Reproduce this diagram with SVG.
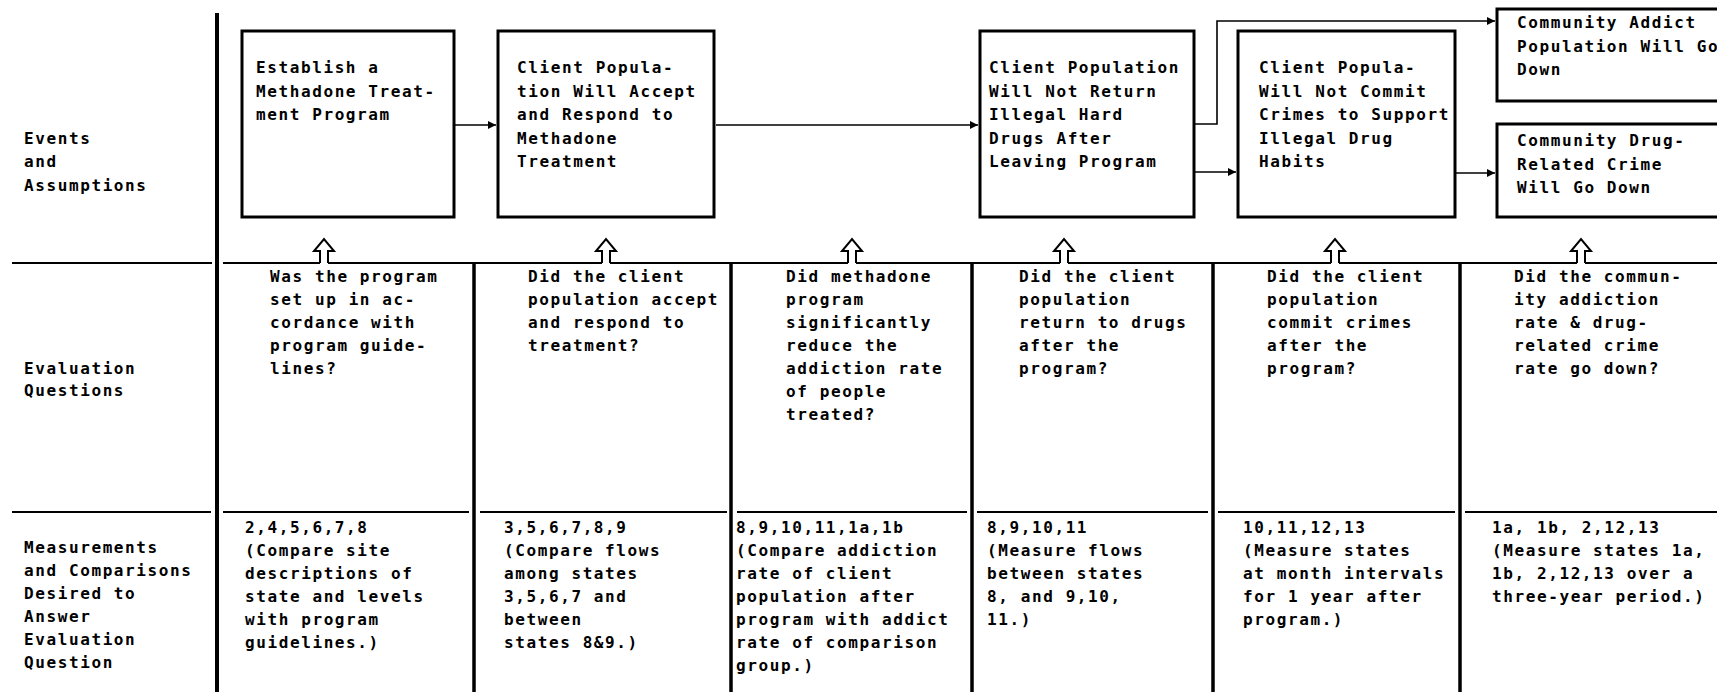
<svg xmlns="http://www.w3.org/2000/svg" width="1717" height="692" viewBox="0 0 1717 692">
<style>
.bg{fill:#fff}
.box{fill:none;stroke:#000;stroke-width:3}
.rule{fill:none;stroke:#000;stroke-width:2}
.vdiv{stroke:#000;stroke-width:3.5}
.conn{fill:none;stroke:#000;stroke-width:1.6}
.up{fill:none;stroke:#000;stroke-width:2;stroke-linejoin:miter}
text{font-family:"DejaVu Sans Mono","Liberation Mono",monospace;font-weight:bold;font-size:16px;letter-spacing:1.6px;fill:#000}
</style>
<defs>
<marker id="ah" viewBox="0 0 10 10" refX="10" refY="5" markerWidth="9" markerHeight="8" markerUnits="userSpaceOnUse" orient="auto">
<path d="M0,0 L10,5 L0,10 z" fill="#000"/>
</marker>
</defs>
<rect class="bg" x="0" y="0" width="1717" height="692"/>

<g id="grid">
<line class="vdiv" x1="217" y1="13" x2="217" y2="692" style="stroke-width:4"/>
<line class="vdiv" x1="474" y1="263" x2="474" y2="692"/>
<line class="vdiv" x1="731" y1="263" x2="731" y2="692"/>
<line class="vdiv" x1="972" y1="263" x2="972" y2="692"/>
<line class="vdiv" x1="1213" y1="263" x2="1213" y2="692"/>
<line class="vdiv" x1="1460" y1="263" x2="1460" y2="692"/>
<path class="rule" d="M12 263H212 M223 263H320 M328 263H602 M610 263H848 M856 263H1060 M1068 263H1331 M1339 263H1577 M1585 263H1717"/>
<path class="rule" d="M12 512H211 M223 512H469 M480 512H727 M737 512H967 M977 512H1208 M1218 512H1455 M1465 512H1717"/>
</g>

<g id="row-labels">
<text x="24" y="144">Events</text>
<text x="24" y="167">and</text>
<text x="24" y="191">Assumptions</text>
<text x="24" y="374">Evaluation</text>
<text x="24" y="396">Questions</text>
<text x="24" y="553">Measurements</text>
<text x="24" y="576">and Comparisons</text>
<text x="24" y="599">Desired to</text>
<text x="24" y="622">Answer</text>
<text x="24" y="645">Evaluation</text>
<text x="24" y="668">Question</text>
</g>

<g id="event-1">
<rect class="box" x="242" y="31" width="212" height="186"/>
<text x="256" y="73">Establish a<tspan x="256" dy="23.5">Methadone Treat-</tspan><tspan x="256" dy="23.5">ment Program</tspan></text>
</g>
<g id="event-2">
<rect class="box" x="498" y="31" width="216" height="186"/>
<text x="517" y="73">Client Popula-<tspan x="517" dy="23.5">tion Will Accept</tspan><tspan x="517" dy="23.5">and Respond to</tspan><tspan x="517" dy="23.5">Methadone</tspan><tspan x="517" dy="23.5">Treatment</tspan></text>
</g>
<g id="event-3">
<rect class="box" x="980" y="31" width="214" height="186"/>
<text x="989" y="73">Client Population<tspan x="989" dy="23.5">Will Not Return</tspan><tspan x="989" dy="23.5">Illegal Hard</tspan><tspan x="989" dy="23.5">Drugs After</tspan><tspan x="989" dy="23.5">Leaving Program</tspan></text>
</g>
<g id="event-4">
<rect class="box" x="1238" y="31" width="217" height="186"/>
<text x="1259" y="73">Client Popula-<tspan x="1259" dy="23.5">Will Not Commit</tspan><tspan x="1259" dy="23.5">Crimes to Support</tspan><tspan x="1259" dy="23.5">Illegal Drug</tspan><tspan x="1259" dy="23.5">Habits</tspan></text>
</g>
<g id="event-5">
<path class="box" d="M1725 9H1497V101H1725"/>
<text x="1517" y="28">Community Addict<tspan x="1517" dy="23.5">Population Will Go</tspan><tspan x="1517" dy="23.5">Down</tspan></text>
</g>
<g id="event-6">
<path class="box" d="M1725 124H1497V217H1725"/>
<text x="1517" y="146">Community Drug-<tspan x="1517" dy="23.5">Related Crime</tspan><tspan x="1517" dy="23.5">Will Go Down</tspan></text>
</g>

<g id="question-1"><text x="270" y="282">Was the program<tspan x="270" dy="23">set up in ac-</tspan><tspan x="270" dy="23">cordance with</tspan><tspan x="270" dy="23">program guide-</tspan><tspan x="270" dy="23">lines?</tspan></text></g>
<g id="question-2"><text x="528" y="282">Did the client<tspan x="528" dy="23">population accept</tspan><tspan x="528" dy="23">and respond to</tspan><tspan x="528" dy="23">treatment?</tspan></text></g>
<g id="question-3"><text x="786" y="282">Did methadone<tspan x="786" dy="23">program</tspan><tspan x="786" dy="23">significantly</tspan><tspan x="786" dy="23">reduce the</tspan><tspan x="786" dy="23">addiction rate</tspan><tspan x="786" dy="23">of people</tspan><tspan x="786" dy="23">treated?</tspan></text></g>
<g id="question-4"><text x="1019" y="282">Did the client<tspan x="1019" dy="23">population</tspan><tspan x="1019" dy="23">return to drugs</tspan><tspan x="1019" dy="23">after the</tspan><tspan x="1019" dy="23">program?</tspan></text></g>
<g id="question-5"><text x="1267" y="282">Did the client<tspan x="1267" dy="23">population</tspan><tspan x="1267" dy="23">commit crimes</tspan><tspan x="1267" dy="23">after the</tspan><tspan x="1267" dy="23">program?</tspan></text></g>
<g id="question-6"><text x="1514" y="282">Did the commun-<tspan x="1514" dy="23">ity addiction</tspan><tspan x="1514" dy="23">rate &amp; drug-</tspan><tspan x="1514" dy="23">related crime</tspan><tspan x="1514" dy="23">rate go down?</tspan></text></g>

<g id="measure-1"><text x="245" y="533">2,4,5,6,7,8<tspan x="245" dy="23">(Compare site</tspan><tspan x="245" dy="23">descriptions of</tspan><tspan x="245" dy="23">state and levels</tspan><tspan x="245" dy="23">with program</tspan><tspan x="245" dy="23">guidelines.)</tspan></text></g>
<g id="measure-2"><text x="504" y="533">3,5,6,7,8,9<tspan x="504" dy="23">(Compare flows</tspan><tspan x="504" dy="23">among states</tspan><tspan x="504" dy="23">3,5,6,7 and</tspan><tspan x="504" dy="23">between</tspan><tspan x="504" dy="23">states 8&amp;9.)</tspan></text></g>
<g id="measure-3"><text x="736" y="533">8,9,10,11,1a,1b<tspan x="736" dy="23">(Compare addiction</tspan><tspan x="736" dy="23">rate of client</tspan><tspan x="736" dy="23">population after</tspan><tspan x="736" dy="23">program with addict</tspan><tspan x="736" dy="23">rate of comparison</tspan><tspan x="736" dy="23">group.)</tspan></text></g>
<g id="measure-4"><text x="987" y="533">8,9,10,11<tspan x="987" dy="23">(Measure flows</tspan><tspan x="987" dy="23">between states</tspan><tspan x="987" dy="23">8, and 9,10,</tspan><tspan x="987" dy="23">11.)</tspan></text></g>
<g id="measure-5"><text x="1243" y="533">10,11,12,13<tspan x="1243" dy="23">(Measure states</tspan><tspan x="1243" dy="23">at month intervals</tspan><tspan x="1243" dy="23">for 1 year after</tspan><tspan x="1243" dy="23">program.)</tspan></text></g>
<g id="measure-6"><text x="1492" y="533">1a, 1b, 2,12,13<tspan x="1492" dy="23">(Measure states 1a,</tspan><tspan x="1492" dy="23">1b, 2,12,13 over a</tspan><tspan x="1492" dy="23">three-year period.)</tspan></text></g>

<g id="connectors">
<path class="conn" marker-end="url(#ah)" d="M455 125H496"/>
<path class="conn" marker-end="url(#ah)" d="M716 125H978"/>
<path class="conn" marker-end="url(#ah)" d="M1195 124H1217V21H1495"/>
<path class="conn" marker-end="url(#ah)" d="M1195 172H1236"/>
<path class="conn" marker-end="url(#ah)" d="M1456 173H1495"/>
<path class="up" d="M320 263V251H314L324 239L334 251H328V263"/>
<path class="up" d="M602 263V251H596L606 239L616 251H610V263"/>
<path class="up" d="M848 263V251H842L852 239L862 251H856V263"/>
<path class="up" d="M1060 263V251H1054L1064 239L1074 251H1068V263"/>
<path class="up" d="M1331 263V251H1325L1335 239L1345 251H1339V263"/>
<path class="up" d="M1577 263V251H1571L1581 239L1591 251H1585V263"/>
</g>
</svg>
